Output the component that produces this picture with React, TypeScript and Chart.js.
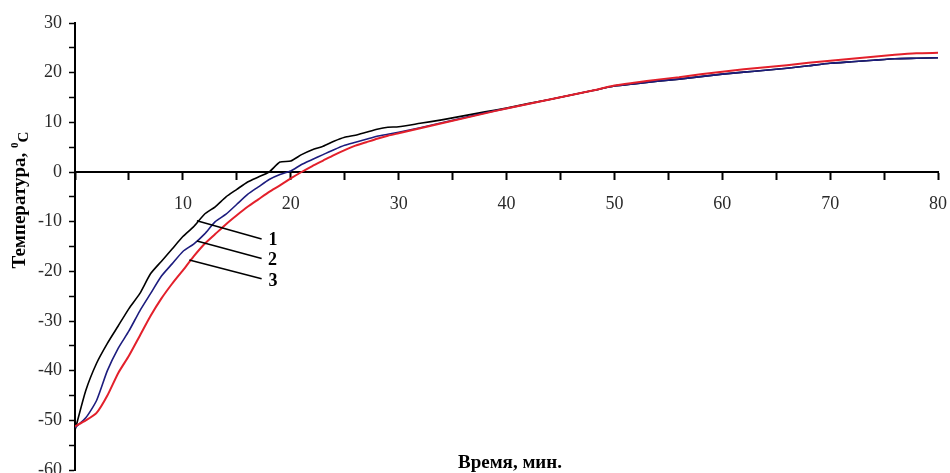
import React, { useEffect, useRef } from "react";
import { Chart, registerables } from "chart.js";

Chart.register(...registerables);

const timeMin = [
  0, 1, 2, 3, 4, 5, 6, 7, 8, 9, 10, 11, 12, 13, 14, 15, 16, 17, 18, 19, 20,
  21, 22, 23, 24, 25, 26, 27, 28, 29, 30, 32, 34, 36, 38, 40, 42, 44, 46, 48,
  50, 52, 54, 56, 58, 60, 62, 64, 66, 68, 70, 72, 74, 76, 78, 80,
];

const curve1 = [
  -52, -44, -38.5, -34.5, -31, -27.5, -24.5, -20.5, -18, -15.5, -13, -11, -8.5,
  -7, -5, -3.5, -2, -1, 0, 2, 2.2, 3.5, 4.5, 5.2, 6.2, 7, 7.4, 8, 8.6, 9, 9.1,
  9.8, 10.5, 11.3, 12.1, 12.9, 13.8, 14.6, 15.5, 16.4, 17.3, 17.8, 18.3, 18.7,
  19.2, 19.7, 20.1, 20.5, 20.9, 21.4, 21.9, 22.2, 22.5, 22.8, 22.9, 23,
];

const curve2 = [
  -51.5, -49.5, -46, -40, -35.5, -32, -28, -24.5, -21, -18.5, -16, -14.5, -12.5,
  -10, -8.5, -6.5, -4.5, -3, -1.5, -0.5, 0.2, 1.5, 2.5, 3.5, 4.5, 5.4, 6, 6.6,
  7.2, 7.6, 8, 8.9, 9.9, 10.9, 11.9, 12.8, 13.7, 14.6, 15.5, 16.4, 17.3, 17.8,
  18.3, 18.7, 19.2, 19.7, 20.1, 20.5, 20.9, 21.4, 21.9, 22.2, 22.5, 22.8, 22.9,
  23,
];

const curve3 = [
  -51.2, -50, -48.5, -45, -40.5, -37, -33, -29, -25.5, -22.5, -19.8, -17, -14.5,
  -12.5, -10.5, -8.7, -7, -5.5, -4, -2.7, -1.3, 0, 1.2, 2.3, 3.4, 4.4, 5.3, 6,
  6.7, 7.3, 7.8, 8.8, 9.8, 10.8, 11.8, 12.8, 13.7, 14.6, 15.5, 16.4, 17.4, 18,
  18.6, 19.1, 19.7, 20.2, 20.7, 21.1, 21.5, 22, 22.4, 22.8, 23.2, 23.6, 23.9, 24,
];

const curveLabels = ["1", "2", "3"];
const leadStartX = [11.3, 11.3, 10.6];
const leadStartY = [-9.8, -13.9, -17.7];
const leadEndX = [17.3, 17.3, 17.3];
const leadEndY = [-13.5, -17.4, -21.5];
const labelX = [18.35, 18.3, 18.35];
const labelY = [-13.7, -17.7, -22.1];

const xTitle = "Время, мин.";
const yTitleMain = "Температура, ";
const yTitleSup = "0";
const yTitleUnit = "C";

const SERIF = '"Liberation Serif", "Times New Roman", serif';

export default function App() {
  const ref = useRef<HTMLCanvasElement | null>(null);

  useEffect(() => {
    document.body.style.margin = "0";
    const canvas = ref.current;
    if (!canvas) return;

    const pts = (ys: number[]) => timeMin.map((x, i) => ({ x, y: ys[i] }));

    const leaderSets = curveLabels.map((_, i) => ({
      data: [
        { x: leadStartX[i], y: leadStartY[i] },
        { x: leadEndX[i], y: leadEndY[i] },
      ],
      borderColor: "#000",
      borderWidth: 1.5,
      pointRadius: 0,
      tension: 0,
      order: 0,
    }));

    const textPlugin = {
      id: "texts",
      afterDraw(chart: any) {
        const ctx = chart.ctx;
        const xs = chart.scales.x;
        const ys = chart.scales.y;
        ctx.save();
        ctx.fillStyle = "#000";
        // curve labels
        ctx.font = `bold 18px ${SERIF}`;
        ctx.textAlign = "center";
        ctx.textBaseline = "middle";
        curveLabels.forEach((t, i) => {
          ctx.fillText(t, xs.getPixelForValue(labelX[i]), ys.getPixelForValue(labelY[i]));
        });
        // x title
        ctx.font = `bold 19px ${SERIF}`;
        ctx.textBaseline = "middle";
        ctx.fillText(xTitle, 510, 463);
        // y title rotated
        ctx.translate(25, 200);
        ctx.rotate(-Math.PI / 2);
        ctx.font = `bold 19px ${SERIF}`;
        const wMain = ctx.measureText(yTitleMain).width;
        ctx.font = `bold 11px ${SERIF}`;
        const wSup = ctx.measureText(yTitleSup).width;
        ctx.font = `bold 15px ${SERIF}`;
        const wUnit = ctx.measureText(yTitleUnit).width;
        const total = wMain + wSup + wUnit;
        let cx = -total / 2;
        ctx.textAlign = "left";
        ctx.textBaseline = "alphabetic";
        ctx.font = `bold 19px ${SERIF}`;
        ctx.fillText(yTitleMain, cx, 0);
        cx += wMain;
        ctx.font = `bold 11px ${SERIF}`;
        ctx.fillText(yTitleSup, cx, -7);
        cx += wSup;
        ctx.font = `bold 15px ${SERIF}`;
        ctx.fillText(yTitleUnit, cx, 3);
        ctx.restore();
      },
    };

    const chart = new Chart(canvas, {
      type: "line",
      data: {
        datasets: [
          {
            data: pts(curve1),
            borderColor: "#000000",
            borderWidth: 1.6,
            pointRadius: 0,
            tension: 0.2,
            order: 3,
          },
          {
            data: pts(curve2),
            borderColor: "#1c1c7e",
            borderWidth: 1.6,
            pointRadius: 0,
            tension: 0.2,
            order: 2,
          },
          {
            data: pts(curve3),
            borderColor: "#e3202b",
            borderWidth: 2,
            pointRadius: 0,
            tension: 0.2,
            order: 1,
          },
          ...leaderSets,
        ] as any,
      },
      plugins: [textPlugin],
      options: {
        animation: false,
        responsive: false,
        devicePixelRatio: 1,
        layout: { padding: { left: 0, top: 23, right: 12, bottom: 3 } },
        plugins: {
          legend: { display: false },
          tooltip: { enabled: false },
          title: { display: false },
        },
        scales: {
          x: {
            type: "linear",
            min: 0,
            max: 80,
            position: { y: 0 } as any,
            border: { display: true, color: "#000", width: 2 },
            grid: {
              drawOnChartArea: false,
              drawTicks: true,
              tickLength: 7,
              tickWidth: 2,
              tickColor: "#000",
            },
            ticks: {
              stepSize: 5,
              autoSkip: false,
              maxRotation: 0,
              padding: 14,
              color: "#2a2a2a",
              font: { family: SERIF, size: 18 },
              callback: (v: any) => (v % 10 === 0 && v !== 0 ? String(v) : ""),
            },
            afterFit: (s: any) => {
              s.paddingLeft = 0;
              s.paddingRight = 0;
            },
          },
          y: {
            type: "linear",
            min: -60,
            max: 30,
            border: { display: true, color: "#000", width: 2 },
            grid: {
              drawOnChartArea: false,
              drawTicks: true,
              tickLength: 6,
              tickWidth: 1.5,
              tickColor: "#000",
            },
            ticks: {
              stepSize: 5,
              autoSkip: false,
              padding: 7,
              color: "#2a2a2a",
              font: { family: SERIF, size: 18 },
              callback: (v: any) => (v % 10 === 0 ? String(v) : ""),
            },
            afterFit: (s: any) => {
              s.width = 75;
              s.paddingTop = 0;
              s.paddingBottom = 0;
            },
          },
        },
      } as any,
    });

    return () => chart.destroy();
  }, []);

  return (
    <div style={{ width: 950, height: 473 }}>
      <canvas ref={ref} width={950} height={473} />
    </div>
  );
}
